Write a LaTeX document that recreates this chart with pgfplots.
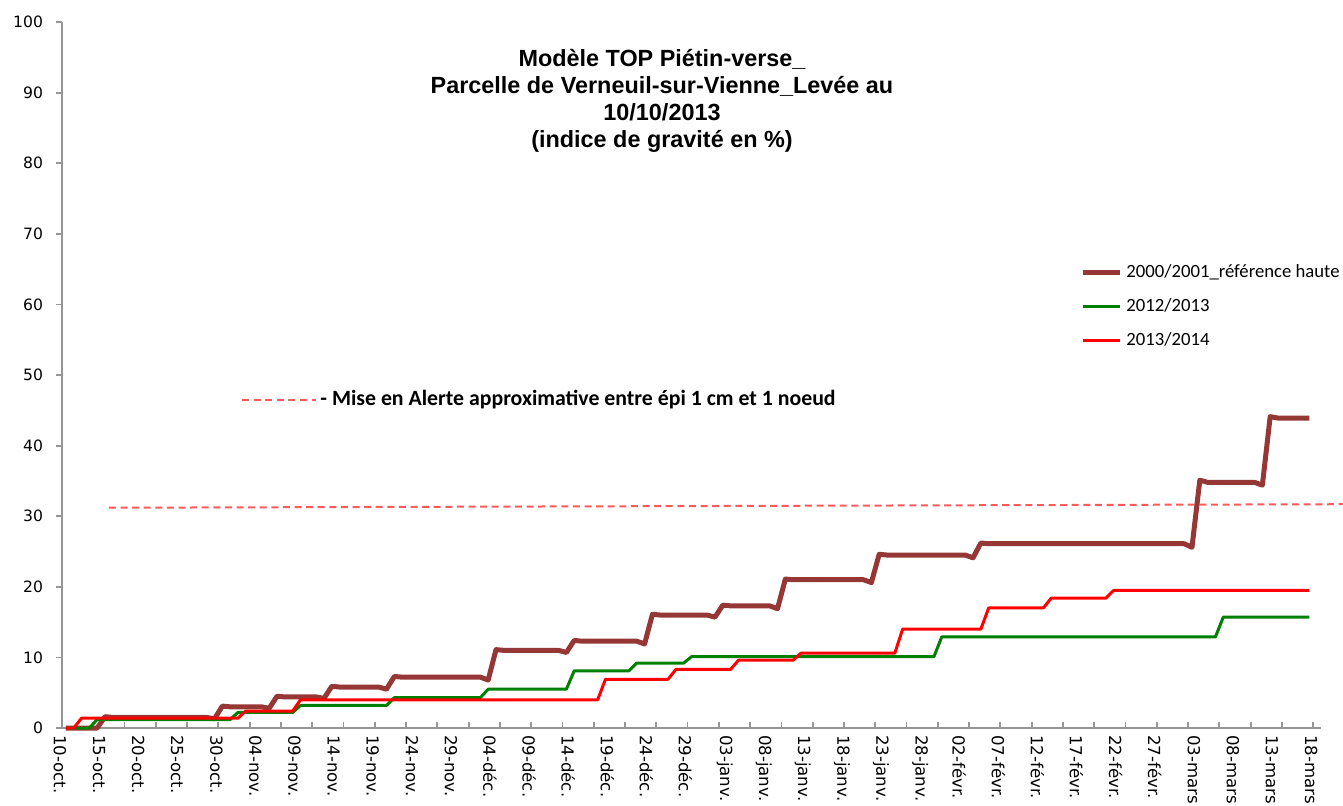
\documentclass[border=0pt]{standalone}
\usepackage{fontspec}
\setmainfont{Liberation Sans}
\newfontfamily\calibri{Carlito}
\newfontfamily\tahoma{DejaVu Sans}
\usepackage{pgfplots}
\pgfplotsset{compat=1.18}
\definecolor{brun}{RGB}{149,55,53}
\definecolor{vert}{RGB}{0,128,0}
\definecolor{rouge}{RGB}{255,0,0}
\definecolor{alerte}{RGB}{255,90,90}
\definecolor{axe}{RGB}{150,150,150}

\begin{document}
\begin{tikzpicture}
\useasboundingbox (-31pt,-38.5pt) rectangle (640.5pt,364pt);
\begin{axis}[
  at={(0pt,0pt)}, anchor=south west,
  scale only axis, width=629.5pt, height=353pt,
  xmin=-0.5, xmax=160.5, ymin=0, ymax=100,
  axis lines*=left,
  axis line style={axe, line width=0.9pt},
  clip=false,
  tick align=inside,
  major tick length=3pt,
  tick style={axe, line width=0.9pt},
  every major y tick/.append style={xshift=-3pt},
  ytick={0,10,...,100},
  y tick label style={font=\tahoma\fontsize{7.8}{9}\selectfont, xshift=-6pt},
  /pgf/number format/assume math mode=true,
  xtick={3.5,7.5,...,159.5},
  xticklabels={},
  extra x ticks={0,5,...,160},
  extra x tick labels={10-oct.,15-oct.,20-oct.,25-oct.,30-oct.,04-nov.,09-nov.,14-nov.,19-nov.,24-nov.,29-nov.,04-déc.,09-déc.,14-déc.,19-déc.,24-déc.,29-déc.,03-janv.,08-janv.,13-janv.,18-janv.,23-janv.,28-janv.,02-févr.,07-févr.,12-févr.,17-févr.,22-févr.,27-févr.,03-mars,08-mars,13-mars,18-mars},
  extra x tick style={tick style={draw=none}},
  x tick label style={rotate=-90, anchor=west, font=\tahoma\fontsize{8.3}{9}\selectfont, yshift=-3pt},
  legend style={at={(0.8086,0.663)}, anchor=north west, draw=none, fill=none,
    font=\calibri\fontsize{9.35}{11}\selectfont, inner sep=0pt, row sep=5.1pt,
    cells={anchor=west}},
  legend image code/.code={\draw[#1] (0pt,0pt) -- (18.5pt,0pt);},
]
% seuil d'alerte
\addplot[alerte, line width=1pt, dash pattern=on 3.5pt off 2.3pt, forget plot]
  coordinates {(5.5,31.2) (163.5,31.7)};
% 2000/2001
\addplot[brun, line width=2.5pt, line join=round] coordinates {
(0,0) (4,0) (5,1.6) (6,1.5) (18,1.5) (19,1.3) (20,3.1) (21,3.0)
(25,3.0) (26,2.8) (27,4.5) (28,4.4) (32,4.4) (33,4.2) (34,5.9) (35,5.8)
(40,5.8) (41,5.5) (42,7.3) (43,7.2) (53,7.2) (54,6.8) (55,11.1) (56,11.0)
(63,11.0) (64,10.7) (65,12.4) (66,12.3) (73,12.3) (74,11.9) (75,16.1) (76,16.0)
(82,16.0) (83,15.7) (84,17.4) (85,17.3) (90,17.3) (91,16.9) (92,21.1) (93,21.0)
(102,21.0) (103,20.6) (104,24.6) (105,24.5) (115,24.5) (116,24.1) (117,26.2) (118,26.1)
(143,26.1) (144,25.6) (145,35.1) (146,34.8) (152,34.8) (153,34.4) (154,44.1) (155,43.9)
(159,43.9)};
\addlegendentry{2000/2001\_référence haute}
% 2012/2013
\addplot[vert, line width=1.5pt, line join=round] coordinates {
(0,0) (3,0) (4,1.2) (21,1.2) (22,2.2)
(29,2.2) (30,3.2) (41,3.2) (42,4.3)
(53,4.3) (54,5.5) (64,5.5) (65,8.1)
(72,8.1) (73,9.2) (79,9.2) (80,10.1)
(111,10.1) (112,12.9) (147,12.9) (148,15.7)
(159,15.7)};
\addlegendentry{2012/2013}
% 2013/2014
\addplot[rouge, line width=1.5pt, line join=round] coordinates {
(0,0) (1,0) (2,1.4) (22,1.4) (23,2.4)
(29,2.4) (30,4.0) (68,4.0) (69,6.9)
(77,6.9) (78,8.3) (85,8.3) (86,9.6)
(93,9.6) (94,10.6) (106,10.6) (107,14.0)
(117,14.0) (118,17.0) (125,17.0) (126,18.4)
(133,18.4) (134,19.5) (159,19.5)};
\addlegendentry{2013/2014}
\end{axis}
\node[anchor=north, align=center, inner sep=0pt,
  font=\bfseries\fontsize{11.7}{13.5}\selectfont] at (300pt,339.5pt)
  {Modèle TOP Piétin-verse\_\\Parcelle de Verneuil-sur-Vienne\_Levée au\\10/10/2013\\(indice de gravité en \%)};
\draw[alerte, line width=1pt, dash pattern=on 3.5pt off 2.3pt] (90pt,164pt) -- (127pt,164pt);
\node[anchor=west, inner sep=0pt, font=\calibri\bfseries\fontsize{10.9}{12}\selectfont]
  at (129pt,164pt) {- Mise en Alerte approximative entre épi 1 cm et 1 noeud};
\end{tikzpicture}
\end{document}
